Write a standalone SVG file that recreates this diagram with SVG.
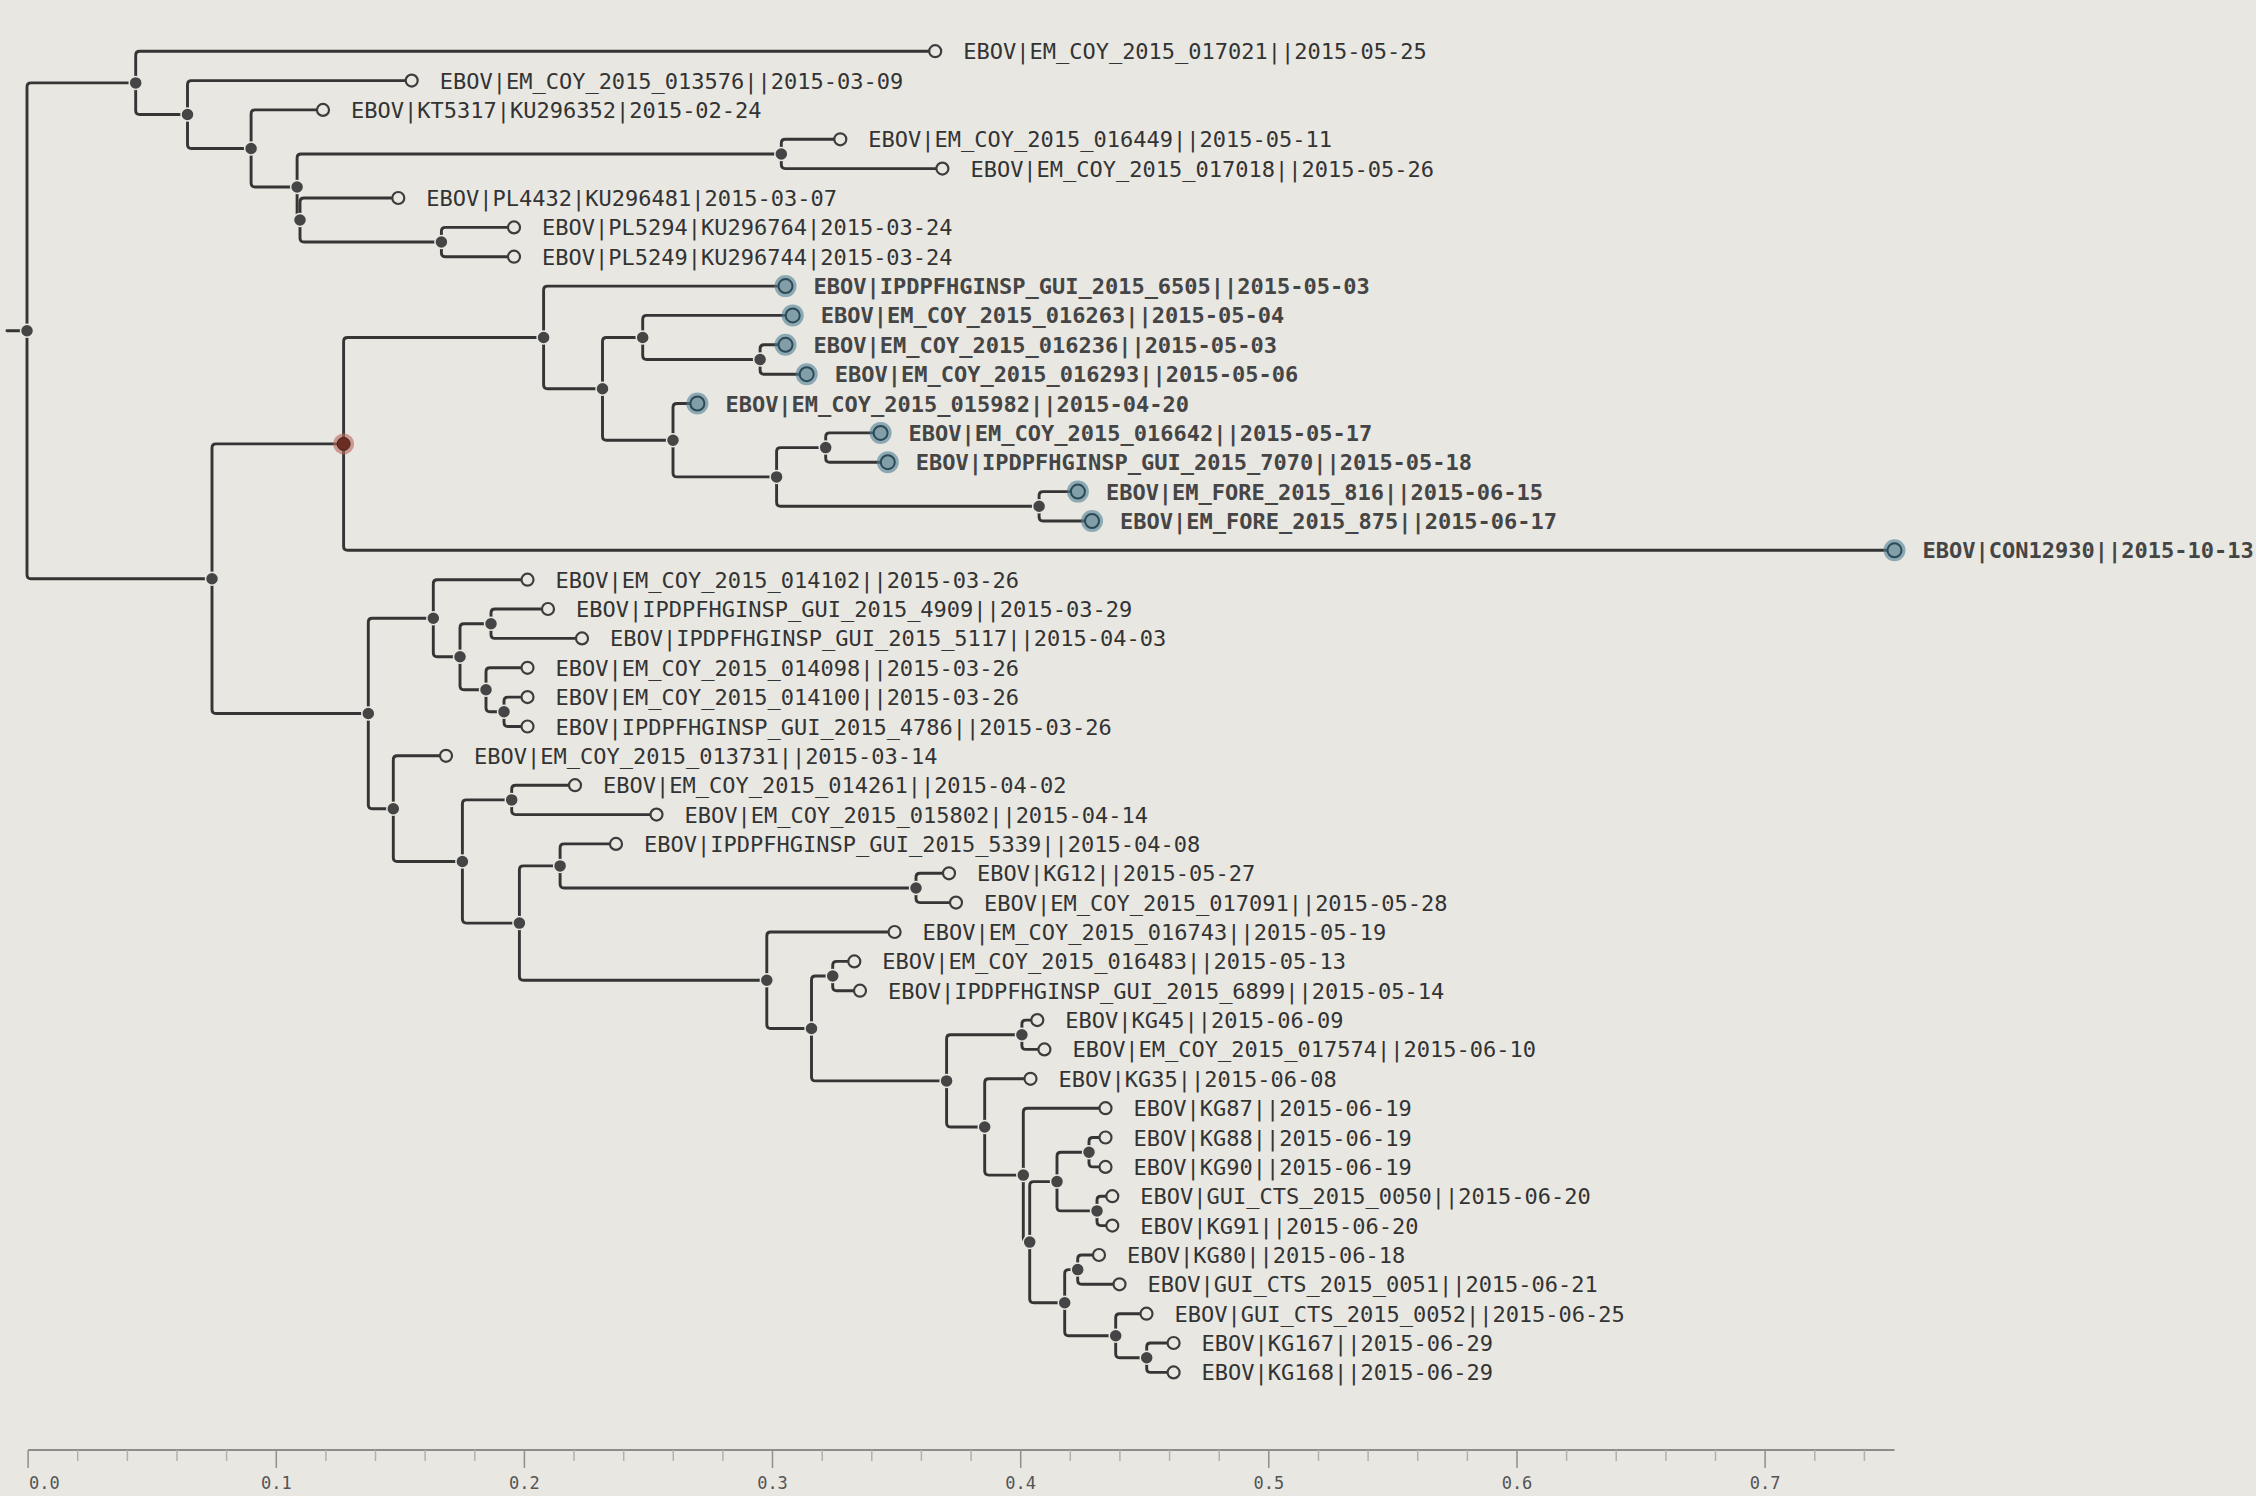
<svg xmlns="http://www.w3.org/2000/svg" width="2256" height="1496" viewBox="0 0 2256 1496">
<style>
  .bg { fill: #e8e7e2; }
  .br { fill: none; stroke: #353535; stroke-width: 2.9; stroke-linecap: round; stroke-linejoin: round; }
  .in { fill: #454545; stroke: #e8e7e2; stroke-width: 1.5; }
  .tip { fill: #e8e7e2; stroke: #3d3d3d; stroke-width: 2.2; }
  .halo { fill: #4d7f94; opacity: 0.6; }
  .core { fill: #819ea9; stroke: #2c4a56; stroke-width: 2; }
  .rhalo { fill: #b5655a; opacity: 0.6; }
  .rcore { fill: #6b2c24; stroke: #4a1f1a; stroke-width: 1; }
  .lab { font-family: "DejaVu Sans Mono", "Liberation Mono", monospace; font-size: 22px; fill: #333333; }
  .hl .lab { font-weight: bold; fill: #454545; }
  .ax { stroke: #8c8c88; stroke-width: 2; fill: none; }
  .tk { stroke: #8f8f8b; stroke-width: 1.5; }
  .tm { stroke: #b2b1ac; stroke-width: 1.5; }
  .axl { font-family: "DejaVu Sans Mono", "Liberation Mono", monospace; font-size: 17px; fill: #555555; }
</style>
<rect class="bg" x="0" y="0" width="2256" height="1496"/>

<!-- branches -->
<g id="connectors" class="br">
  <path d="M7 330.8 H27"/>
  <path d="M27 330.8 V86.9 Q27 82.9 31 82.9 H135.7"/>
  <path d="M27 330.8 V574.7 Q27 578.7 31 578.7 H212"/>
  <path d="M135.7 82.9 V55.2 Q135.7 51.2 139.7 51.2 H935.2"/>
  <path d="M135.7 82.9 V110.5 Q135.7 114.5 139.7 114.5 H187.5"/>
  <path d="M187.5 114.5 V84.6 Q187.5 80.6 191.5 80.6 H411.7"/>
  <path d="M187.5 114.5 V144.5 Q187.5 148.5 191.5 148.5 H251.1"/>
  <path d="M251.1 148.5 V113.9 Q251.1 109.9 255.1 109.9 H323"/>
  <path d="M251.1 148.5 V183 Q251.1 187 255.1 187 H297.1"/>
  <path d="M297.1 187 V158 Q297.1 154 301.1 154 H781.3"/>
  <path d="M297.1 187 V217.1 Q297.1 220 300 220"/>
  <path d="M781.3 154 V143.3 Q781.3 139.3 785.3 139.3 H840.3"/>
  <path d="M781.3 154 V164.6 Q781.3 168.6 785.3 168.6 H942.4"/>
  <path d="M300 220 V202 Q300 198 304 198 H398.3"/>
  <path d="M300 220 V238 Q300 242 304 242 H441.4"/>
  <path d="M441.4 242 V231.4 Q441.4 227.4 445.4 227.4 H514"/>
  <path d="M441.4 242 V252.7 Q441.4 256.7 445.4 256.7 H514"/>
  <path d="M212 578.7 V447.9 Q212 443.9 216 443.9 H343.6"/>
  <path d="M212 578.7 V709.5 Q212 713.5 216 713.5 H368.3"/>
  <path d="M343.6 443.9 V341.5 Q343.6 337.5 347.6 337.5 H543.6"/>
  <path d="M343.6 443.9 V546.3 Q343.6 550.3 347.6 550.3 H1894.5"/>
  <path d="M543.6 337.5 V290.1 Q543.6 286.1 547.6 286.1 H785.5"/>
  <path d="M543.6 337.5 V384.8 Q543.6 388.8 547.6 388.8 H602.5"/>
  <path d="M602.5 388.8 V341.5 Q602.5 337.5 606.5 337.5 H642.7"/>
  <path d="M602.5 388.8 V436.2 Q602.5 440.2 606.5 440.2 H673"/>
  <path d="M642.7 337.5 V319.4 Q642.7 315.4 646.7 315.4 H792.7"/>
  <path d="M642.7 337.5 V355.5 Q642.7 359.5 646.7 359.5 H760.1"/>
  <path d="M760.1 359.5 V348.8 Q760.1 344.8 764.1 344.8 H785.5"/>
  <path d="M760.1 359.5 V370.2 Q760.1 374.2 764.1 374.2 H806.7"/>
  <path d="M673 440.2 V407.5 Q673 403.5 677 403.5 H697.4"/>
  <path d="M673 440.2 V472.9 Q673 476.9 677 476.9 H776.6"/>
  <path d="M776.6 476.9 V451.6 Q776.6 447.6 780.6 447.6 H825.7"/>
  <path d="M776.6 476.9 V502.3 Q776.6 506.3 780.6 506.3 H1039.1"/>
  <path d="M825.7 447.6 V436.9 Q825.7 432.9 829.7 432.9 H880.6"/>
  <path d="M825.7 447.6 V458.2 Q825.7 462.2 829.7 462.2 H887.8"/>
  <path d="M1039.1 506.3 V495.6 Q1039.1 491.6 1043.1 491.6 H1077.9"/>
  <path d="M1039.1 506.3 V517 Q1039.1 521 1043.1 521 H1092"/>
  <path d="M368.3 713.5 V622.2 Q368.3 618.2 372.3 618.2 H433.3"/>
  <path d="M368.3 713.5 V804.7 Q368.3 808.7 372.3 808.7 H393.3"/>
  <path d="M433.3 618.2 V583.7 Q433.3 579.7 437.3 579.7 H527.5"/>
  <path d="M433.3 618.2 V652.8 Q433.3 656.8 437.3 656.8 H460"/>
  <path d="M460 656.8 V627.7 Q460 623.7 464 623.7 H491"/>
  <path d="M460 656.8 V685.8 Q460 689.8 464 689.8 H486"/>
  <path d="M491 623.7 V613 Q491 609 495 609 H548"/>
  <path d="M491 623.7 V634.4 Q491 638.4 495 638.4 H582"/>
  <path d="M486 689.8 V671.8 Q486 667.8 490 667.8 H527.5"/>
  <path d="M486 689.8 V707.8 Q486 711.8 490 711.8 H504"/>
  <path d="M504 711.8 V701.1 Q504 697.1 508 697.1 H527.5"/>
  <path d="M504 711.8 V722.5 Q504 726.5 508 726.5 H527.5"/>
  <path d="M393.3 808.7 V759.8 Q393.3 755.8 397.3 755.8 H446"/>
  <path d="M393.3 808.7 V857.5 Q393.3 861.5 397.3 861.5 H462.4"/>
  <path d="M462.4 861.5 V803.9 Q462.4 799.9 466.4 799.9 H511.7"/>
  <path d="M462.4 861.5 V919.1 Q462.4 923.1 466.4 923.1 H519.4"/>
  <path d="M511.7 799.9 V789.2 Q511.7 785.2 515.7 785.2 H575"/>
  <path d="M511.7 799.9 V810.6 Q511.7 814.6 515.7 814.6 H656.5"/>
  <path d="M519.4 923.1 V869.9 Q519.4 865.9 523.4 865.9 H560.1"/>
  <path d="M519.4 923.1 V976.2 Q519.4 980.2 523.4 980.2 H766.8"/>
  <path d="M560.1 865.9 V847.9 Q560.1 843.9 564.1 843.9 H616"/>
  <path d="M560.1 865.9 V884 Q560.1 888 564.1 888 H916"/>
  <path d="M916 888 V877.3 Q916 873.3 920 873.3 H949"/>
  <path d="M916 888 V898.6 Q916 902.6 920 902.6 H956"/>
  <path d="M766.8 980.2 V936 Q766.8 932 770.8 932 H894.6"/>
  <path d="M766.8 980.2 V1024.5 Q766.8 1028.5 770.8 1028.5 H811.5"/>
  <path d="M811.5 1028.5 V980 Q811.5 976 815.5 976 H832.7"/>
  <path d="M811.5 1028.5 V1076.9 Q811.5 1080.9 815.5 1080.9 H946.6"/>
  <path d="M832.7 976 V965.4 Q832.7 961.4 836.7 961.4 H854.3"/>
  <path d="M832.7 976 V986.7 Q832.7 990.7 836.7 990.7 H860"/>
  <path d="M946.6 1080.9 V1038.8 Q946.6 1034.8 950.6 1034.8 H1021.9"/>
  <path d="M946.6 1080.9 V1123 Q946.6 1127 950.6 1127 H984.7"/>
  <path d="M1021.9 1034.8 V1024.1 Q1021.9 1020.1 1025.9 1020.1 H1037.3"/>
  <path d="M1021.9 1034.8 V1045.4 Q1021.9 1049.4 1025.9 1049.4 H1044.4"/>
  <path d="M984.7 1127 V1082.8 Q984.7 1078.8 988.7 1078.8 H1030.5"/>
  <path d="M984.7 1127 V1171.1 Q984.7 1175.1 988.7 1175.1 H1023.3"/>
  <path d="M1023.3 1175.1 V1112.2 Q1023.3 1108.2 1027.3 1108.2 H1105.5"/>
  <path d="M1023.3 1175.1 V1238.1 Q1023.3 1242.1 1027.3 1242.1 H1029.7"/>
  <path d="M1029.7 1242.1 V1185.6 Q1029.7 1181.6 1033.7 1181.6 H1057"/>
  <path d="M1029.7 1242.1 V1298.7 Q1029.7 1302.7 1033.7 1302.7 H1064.7"/>
  <path d="M1057 1181.6 V1156.2 Q1057 1152.2 1061 1152.2 H1089"/>
  <path d="M1057 1181.6 V1206.9 Q1057 1210.9 1061 1210.9 H1097"/>
  <path d="M1089 1152.2 V1141.5 Q1089 1137.5 1093 1137.5 H1105.5"/>
  <path d="M1089 1152.2 V1162.9 Q1089 1166.9 1093 1166.9 H1105.5"/>
  <path d="M1097 1210.9 V1200.2 Q1097 1196.2 1101 1196.2 H1112.3"/>
  <path d="M1097 1210.9 V1221.6 Q1097 1225.6 1101 1225.6 H1112.3"/>
  <path d="M1064.7 1302.7 V1273.6 Q1064.7 1269.6 1068.7 1269.6 H1077.7"/>
  <path d="M1064.7 1302.7 V1331.7 Q1064.7 1335.7 1068.7 1335.7 H1115.7"/>
  <path d="M1077.7 1269.6 V1259 Q1077.7 1255 1081.7 1255 H1099"/>
  <path d="M1077.7 1269.6 V1280.3 Q1077.7 1284.3 1081.7 1284.3 H1119.5"/>
  <path d="M1115.7 1335.7 V1317.7 Q1115.7 1313.7 1119.7 1313.7 H1146.5"/>
  <path d="M1115.7 1335.7 V1353.7 Q1115.7 1357.7 1119.7 1357.7 H1146.7"/>
  <path d="M1146.7 1357.7 V1347 Q1146.7 1343 1150.7 1343 H1173.6"/>
  <path d="M1146.7 1357.7 V1368.4 Q1146.7 1372.4 1150.7 1372.4 H1173.6"/>
</g>

<!-- internal nodes -->
<g id="internal-nodes">
  <g id="node-root"><circle class="in" cx="27" cy="330.8" r="6.5"/></g>
  <g id="node-n1"><circle class="in" cx="135.7" cy="82.9" r="6.5"/></g>
  <g id="node-n2"><circle class="in" cx="187.5" cy="114.5" r="6.5"/></g>
  <g id="node-n3"><circle class="in" cx="251.1" cy="148.5" r="6.5"/></g>
  <g id="node-n4"><circle class="in" cx="297.1" cy="187" r="6.5"/></g>
  <g id="node-n5"><circle class="in" cx="300" cy="220" r="6.5"/></g>
  <g id="node-n6"><circle class="in" cx="441.4" cy="242" r="6.5"/></g>
  <g id="node-a"><circle class="in" cx="781.3" cy="154" r="6.5"/></g>
  <g id="node-b"><circle class="in" cx="212" cy="578.7" r="6.5"/></g>
  <g id="node-r"><circle class="rhalo" cx="343.6" cy="443.9" r="10.5"/><circle class="rcore" cx="343.6" cy="443.9" r="6.5"/></g>
  <g id="node-c1"><circle class="in" cx="543.6" cy="337.5" r="6.5"/></g>
  <g id="node-c2"><circle class="in" cx="602.5" cy="388.8" r="6.5"/></g>
  <g id="node-c3"><circle class="in" cx="642.7" cy="337.5" r="6.5"/></g>
  <g id="node-c4"><circle class="in" cx="760.1" cy="359.5" r="6.5"/></g>
  <g id="node-c5"><circle class="in" cx="673" cy="440.2" r="6.5"/></g>
  <g id="node-c6"><circle class="in" cx="776.6" cy="476.9" r="6.5"/></g>
  <g id="node-c7"><circle class="in" cx="825.7" cy="447.6" r="6.5"/></g>
  <g id="node-c8"><circle class="in" cx="1039.1" cy="506.3" r="6.5"/></g>
  <g id="node-d"><circle class="in" cx="368.3" cy="713.5" r="6.5"/></g>
  <g id="node-e"><circle class="in" cx="433.3" cy="618.2" r="6.5"/></g>
  <g id="node-e2"><circle class="in" cx="460" cy="656.8" r="6.5"/></g>
  <g id="node-e3"><circle class="in" cx="491" cy="623.7" r="6.5"/></g>
  <g id="node-e4"><circle class="in" cx="486" cy="689.8" r="6.5"/></g>
  <g id="node-e5"><circle class="in" cx="504" cy="711.8" r="6.5"/></g>
  <g id="node-f"><circle class="in" cx="393.3" cy="808.7" r="6.5"/></g>
  <g id="node-g"><circle class="in" cx="462.4" cy="861.5" r="6.5"/></g>
  <g id="node-g1"><circle class="in" cx="511.7" cy="799.9" r="6.5"/></g>
  <g id="node-h"><circle class="in" cx="519.4" cy="923.1" r="6.5"/></g>
  <g id="node-h1"><circle class="in" cx="560.1" cy="865.9" r="6.5"/></g>
  <g id="node-h2"><circle class="in" cx="916" cy="888" r="6.5"/></g>
  <g id="node-i"><circle class="in" cx="766.8" cy="980.2" r="6.5"/></g>
  <g id="node-j"><circle class="in" cx="811.5" cy="1028.5" r="6.5"/></g>
  <g id="node-j1"><circle class="in" cx="832.7" cy="976" r="6.5"/></g>
  <g id="node-k"><circle class="in" cx="946.6" cy="1080.9" r="6.5"/></g>
  <g id="node-k1"><circle class="in" cx="1021.9" cy="1034.8" r="6.5"/></g>
  <g id="node-l"><circle class="in" cx="984.7" cy="1127" r="6.5"/></g>
  <g id="node-m"><circle class="in" cx="1023.3" cy="1175.1" r="6.5"/></g>
  <g id="node-n"><circle class="in" cx="1029.7" cy="1242.1" r="6.5"/></g>
  <g id="node-p1"><circle class="in" cx="1057" cy="1181.6" r="6.5"/></g>
  <g id="node-p1a"><circle class="in" cx="1089" cy="1152.2" r="6.5"/></g>
  <g id="node-p1b"><circle class="in" cx="1097" cy="1210.9" r="6.5"/></g>
  <g id="node-p2"><circle class="in" cx="1064.7" cy="1302.7" r="6.5"/></g>
  <g id="node-p2a"><circle class="in" cx="1077.7" cy="1269.6" r="6.5"/></g>
  <g id="node-p2b"><circle class="in" cx="1115.7" cy="1335.7" r="6.5"/></g>
  <g id="node-p2c"><circle class="in" cx="1146.7" cy="1357.7" r="6.5"/></g>
</g>

<!-- tips -->
<g id="tips">
  <g id="tip-0"><circle class="tip" cx="935.2" cy="51.2" r="6"/><text class="lab" x="963.2" y="59.2">EBOV|EM_COY_2015_017021||2015-05-25</text></g>
  <g id="tip-1"><circle class="tip" cx="411.7" cy="80.6" r="6"/><text class="lab" x="439.7" y="88.6">EBOV|EM_COY_2015_013576||2015-03-09</text></g>
  <g id="tip-2"><circle class="tip" cx="323" cy="109.9" r="6"/><text class="lab" x="351" y="117.9">EBOV|KT5317|KU296352|2015-02-24</text></g>
  <g id="tip-3"><circle class="tip" cx="840.3" cy="139.3" r="6"/><text class="lab" x="868.3" y="147.3">EBOV|EM_COY_2015_016449||2015-05-11</text></g>
  <g id="tip-4"><circle class="tip" cx="942.4" cy="168.6" r="6"/><text class="lab" x="970.4" y="176.6">EBOV|EM_COY_2015_017018||2015-05-26</text></g>
  <g id="tip-5"><circle class="tip" cx="398.3" cy="198" r="6"/><text class="lab" x="426.3" y="206">EBOV|PL4432|KU296481|2015-03-07</text></g>
  <g id="tip-6"><circle class="tip" cx="514" cy="227.4" r="6"/><text class="lab" x="542" y="235.4">EBOV|PL5294|KU296764|2015-03-24</text></g>
  <g id="tip-7"><circle class="tip" cx="514" cy="256.7" r="6"/><text class="lab" x="542" y="264.7">EBOV|PL5249|KU296744|2015-03-24</text></g>

  <g id="tip-8" class="hl"><circle class="halo" cx="785.5" cy="286.1" r="11"/><circle class="core" cx="785.5" cy="286.1" r="7"/><text class="lab" x="813.5" y="294.1">EBOV|IPDPFHGINSP_GUI_2015_6505||2015-05-03</text></g>
  <g id="tip-9" class="hl"><circle class="halo" cx="792.7" cy="315.4" r="11"/><circle class="core" cx="792.7" cy="315.4" r="7"/><text class="lab" x="820.7" y="323.4">EBOV|EM_COY_2015_016263||2015-05-04</text></g>
  <g id="tip-10" class="hl"><circle class="halo" cx="785.5" cy="344.8" r="11"/><circle class="core" cx="785.5" cy="344.8" r="7"/><text class="lab" x="813.5" y="352.8">EBOV|EM_COY_2015_016236||2015-05-03</text></g>
  <g id="tip-11" class="hl"><circle class="halo" cx="806.7" cy="374.2" r="11"/><circle class="core" cx="806.7" cy="374.2" r="7"/><text class="lab" x="834.7" y="382.2">EBOV|EM_COY_2015_016293||2015-05-06</text></g>
  <g id="tip-12" class="hl"><circle class="halo" cx="697.4" cy="403.5" r="11"/><circle class="core" cx="697.4" cy="403.5" r="7"/><text class="lab" x="725.4" y="411.5">EBOV|EM_COY_2015_015982||2015-04-20</text></g>
  <g id="tip-13" class="hl"><circle class="halo" cx="880.6" cy="432.9" r="11"/><circle class="core" cx="880.6" cy="432.9" r="7"/><text class="lab" x="908.6" y="440.9">EBOV|EM_COY_2015_016642||2015-05-17</text></g>
  <g id="tip-14" class="hl"><circle class="halo" cx="887.8" cy="462.2" r="11"/><circle class="core" cx="887.8" cy="462.2" r="7"/><text class="lab" x="915.8" y="470.2">EBOV|IPDPFHGINSP_GUI_2015_7070||2015-05-18</text></g>
  <g id="tip-15" class="hl"><circle class="halo" cx="1077.9" cy="491.6" r="11"/><circle class="core" cx="1077.9" cy="491.6" r="7"/><text class="lab" x="1105.9" y="499.6">EBOV|EM_FORE_2015_816||2015-06-15</text></g>
  <g id="tip-16" class="hl"><circle class="halo" cx="1092" cy="521" r="11"/><circle class="core" cx="1092" cy="521" r="7"/><text class="lab" x="1120" y="529">EBOV|EM_FORE_2015_875||2015-06-17</text></g>
  <g id="tip-17" class="hl"><circle class="halo" cx="1894.5" cy="550.3" r="11"/><circle class="core" cx="1894.5" cy="550.3" r="7"/><text class="lab" x="1922.5" y="558.3">EBOV|CON12930||2015-10-13</text></g>

  <g id="tip-18"><circle class="tip" cx="527.5" cy="579.7" r="6"/><text class="lab" x="555.5" y="587.7">EBOV|EM_COY_2015_014102||2015-03-26</text></g>
  <g id="tip-19"><circle class="tip" cx="548" cy="609" r="6"/><text class="lab" x="576" y="617">EBOV|IPDPFHGINSP_GUI_2015_4909||2015-03-29</text></g>
  <g id="tip-20"><circle class="tip" cx="582" cy="638.4" r="6"/><text class="lab" x="610" y="646.4">EBOV|IPDPFHGINSP_GUI_2015_5117||2015-04-03</text></g>
  <g id="tip-21"><circle class="tip" cx="527.5" cy="667.8" r="6"/><text class="lab" x="555.5" y="675.8">EBOV|EM_COY_2015_014098||2015-03-26</text></g>
  <g id="tip-22"><circle class="tip" cx="527.5" cy="697.1" r="6"/><text class="lab" x="555.5" y="705.1">EBOV|EM_COY_2015_014100||2015-03-26</text></g>
  <g id="tip-23"><circle class="tip" cx="527.5" cy="726.5" r="6"/><text class="lab" x="555.5" y="734.5">EBOV|IPDPFHGINSP_GUI_2015_4786||2015-03-26</text></g>
  <g id="tip-24"><circle class="tip" cx="446" cy="755.8" r="6"/><text class="lab" x="474" y="763.8">EBOV|EM_COY_2015_013731||2015-03-14</text></g>
  <g id="tip-25"><circle class="tip" cx="575" cy="785.2" r="6"/><text class="lab" x="603" y="793.2">EBOV|EM_COY_2015_014261||2015-04-02</text></g>
  <g id="tip-26"><circle class="tip" cx="656.5" cy="814.6" r="6"/><text class="lab" x="684.5" y="822.6">EBOV|EM_COY_2015_015802||2015-04-14</text></g>
  <g id="tip-27"><circle class="tip" cx="616" cy="843.9" r="6"/><text class="lab" x="644" y="851.9">EBOV|IPDPFHGINSP_GUI_2015_5339||2015-04-08</text></g>
  <g id="tip-28"><circle class="tip" cx="949" cy="873.3" r="6"/><text class="lab" x="977" y="881.3">EBOV|KG12||2015-05-27</text></g>
  <g id="tip-29"><circle class="tip" cx="956" cy="902.6" r="6"/><text class="lab" x="984" y="910.6">EBOV|EM_COY_2015_017091||2015-05-28</text></g>
  <g id="tip-30"><circle class="tip" cx="894.6" cy="932" r="6"/><text class="lab" x="922.6" y="940">EBOV|EM_COY_2015_016743||2015-05-19</text></g>
  <g id="tip-31"><circle class="tip" cx="854.3" cy="961.4" r="6"/><text class="lab" x="882.3" y="969.4">EBOV|EM_COY_2015_016483||2015-05-13</text></g>
  <g id="tip-32"><circle class="tip" cx="860" cy="990.7" r="6"/><text class="lab" x="888" y="998.7">EBOV|IPDPFHGINSP_GUI_2015_6899||2015-05-14</text></g>
  <g id="tip-33"><circle class="tip" cx="1037.3" cy="1020.1" r="6"/><text class="lab" x="1065.3" y="1028.1">EBOV|KG45||2015-06-09</text></g>
  <g id="tip-34"><circle class="tip" cx="1044.4" cy="1049.4" r="6"/><text class="lab" x="1072.4" y="1057.4">EBOV|EM_COY_2015_017574||2015-06-10</text></g>
  <g id="tip-35"><circle class="tip" cx="1030.5" cy="1078.8" r="6"/><text class="lab" x="1058.5" y="1086.8">EBOV|KG35||2015-06-08</text></g>
  <g id="tip-36"><circle class="tip" cx="1105.5" cy="1108.2" r="6"/><text class="lab" x="1133.5" y="1116.2">EBOV|KG87||2015-06-19</text></g>
  <g id="tip-37"><circle class="tip" cx="1105.5" cy="1137.5" r="6"/><text class="lab" x="1133.5" y="1145.5">EBOV|KG88||2015-06-19</text></g>
  <g id="tip-38"><circle class="tip" cx="1105.5" cy="1166.9" r="6"/><text class="lab" x="1133.5" y="1174.9">EBOV|KG90||2015-06-19</text></g>
  <g id="tip-39"><circle class="tip" cx="1112.3" cy="1196.2" r="6"/><text class="lab" x="1140.3" y="1204.2">EBOV|GUI_CTS_2015_0050||2015-06-20</text></g>
  <g id="tip-40"><circle class="tip" cx="1112.3" cy="1225.6" r="6"/><text class="lab" x="1140.3" y="1233.6">EBOV|KG91||2015-06-20</text></g>
  <g id="tip-41"><circle class="tip" cx="1099" cy="1255" r="6"/><text class="lab" x="1127" y="1263">EBOV|KG80||2015-06-18</text></g>
  <g id="tip-42"><circle class="tip" cx="1119.5" cy="1284.3" r="6"/><text class="lab" x="1147.5" y="1292.3">EBOV|GUI_CTS_2015_0051||2015-06-21</text></g>
  <g id="tip-43"><circle class="tip" cx="1146.5" cy="1313.7" r="6"/><text class="lab" x="1174.5" y="1321.7">EBOV|GUI_CTS_2015_0052||2015-06-25</text></g>
  <g id="tip-44"><circle class="tip" cx="1173.6" cy="1343" r="6"/><text class="lab" x="1201.6" y="1351">EBOV|KG167||2015-06-29</text></g>
  <g id="tip-45"><circle class="tip" cx="1173.6" cy="1372.4" r="6"/><text class="lab" x="1201.6" y="1380.4">EBOV|KG168||2015-06-29</text></g>
</g>

<!-- distance axis -->
<g id="axis">
  <path class="ax" d="M28.1 1450 H1894.5"/>
  <g class="tk">
    <path d="M28.1 1450 V1468 M276.3 1450 V1468 M524.4 1450 V1468 M772.5 1450 V1468 M1020.7 1450 V1468 M1268.8 1450 V1468 M1517 1450 V1468 M1765.1 1450 V1468"/>
  </g>
  <g class="tm">
    <path d="M77.7 1450 V1461 M127.4 1450 V1461 M177 1450 V1461 M226.6 1450 V1461 M325.9 1450 V1461 M375.5 1450 V1461 M425.1 1450 V1461 M474.8 1450 V1461 M574 1450 V1461 M623.7 1450 V1461 M673.3 1450 V1461 M722.9 1450 V1461 M822.2 1450 V1461 M871.8 1450 V1461 M921.4 1450 V1461 M971.1 1450 V1461 M1070.3 1450 V1461 M1119.9 1450 V1461 M1169.6 1450 V1461 M1219.2 1450 V1461 M1318.5 1450 V1461 M1368.1 1450 V1461 M1417.7 1450 V1461 M1467.4 1450 V1461 M1566.6 1450 V1461 M1616.2 1450 V1461 M1665.9 1450 V1461 M1715.5 1450 V1461 M1814.8 1450 V1461 M1864.4 1450 V1461"/>
  </g>
  <text class="axl" x="29" y="1489">0.0</text>
  <text class="axl" x="276.3" y="1489" text-anchor="middle">0.1</text>
  <text class="axl" x="524.4" y="1489" text-anchor="middle">0.2</text>
  <text class="axl" x="772.5" y="1489" text-anchor="middle">0.3</text>
  <text class="axl" x="1020.7" y="1489" text-anchor="middle">0.4</text>
  <text class="axl" x="1268.8" y="1489" text-anchor="middle">0.5</text>
  <text class="axl" x="1517" y="1489" text-anchor="middle">0.6</text>
  <text class="axl" x="1765.1" y="1489" text-anchor="middle">0.7</text>
</g>
</svg>
